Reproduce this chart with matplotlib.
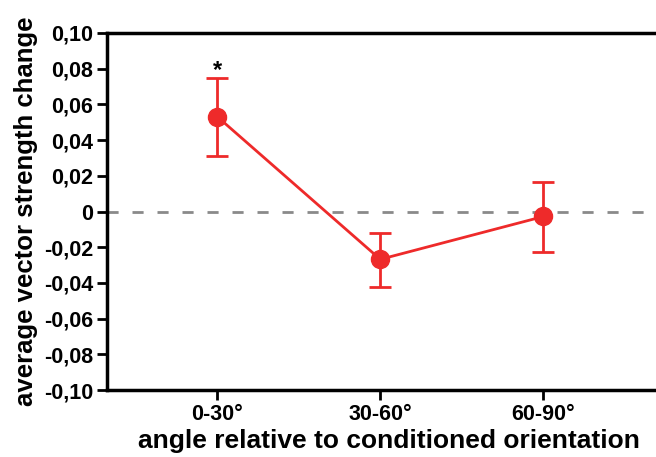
import matplotlib
matplotlib.use("Agg")
import matplotlib.pyplot as plt

categories = ["0-30°", "30-60°", "60-90°"]
means = [0.0532, -0.0268, -0.0028]
upper = [0.0747, -0.0123, 0.0168]
lower = [0.0313, -0.0425, -0.0229]
yticks = [-0.10, -0.08, -0.06, -0.04, -0.02, 0, 0.02, 0.04, 0.06, 0.08, 0.10]
ytick_labels = ["-0,10", "-0,08", "-0,06", "-0,04", "-0,02", "0", "0,02", "0,04", "0,06", "0,08", "0,10"]

plt.rcParams['font.family'] = ['Liberation Sans', 'DejaVu Sans']
plt.rcParams['font.weight'] = 'bold'

fig = plt.figure(figsize=(6.56, 4.57), dpi=100)
ax = fig.add_axes([107/656, 1 - 390/457, 1 - 107/656, (390 - 33) / 457])

x = list(range(len(categories)))
red = "#ee2a2a"
yerr = [[m - l for m, l in zip(means, lower)], [u - m for m, u in zip(means, upper)]]
ax.axhline(0, color="#8a8a8a", linestyle=(0, (4, 5)), linewidth=2, zorder=1)
ax.errorbar(x, means, yerr=yerr, color=red, linewidth=2, marker="o", markersize=13,
            capsize=8, capthick=2, elinewidth=2, zorder=3)
ax.text(0, 0.0725, "*", ha="center", va="bottom", fontsize=17, fontweight="bold")

ax.set_xlim(-0.675, 2.69)
ax.set_ylim(-0.10, 0.10)
ax.set_xticks(x)
ax.set_xticklabels(categories, fontsize=15.5, fontweight="bold")
ax.set_yticks(yticks)
ax.set_yticklabels(ytick_labels, fontsize=15.5, fontweight="bold")
ax.tick_params(axis="both", direction="out", length=7, width=2, pad=3)

for s in ["left", "bottom", "top"]:
    ax.spines[s].set_linewidth(2.5)
ax.spines["right"].set_visible(False)

ax.set_xlabel("angle relative to conditioned orientation", fontsize=19, fontweight="bold")
ax.xaxis.set_label_coords(0.513, -0.11)
ax.set_ylabel("average vector strength change", fontsize=18.5, fontweight="bold", labelpad=4)

fig.savefig("out.png", dpi=100)
